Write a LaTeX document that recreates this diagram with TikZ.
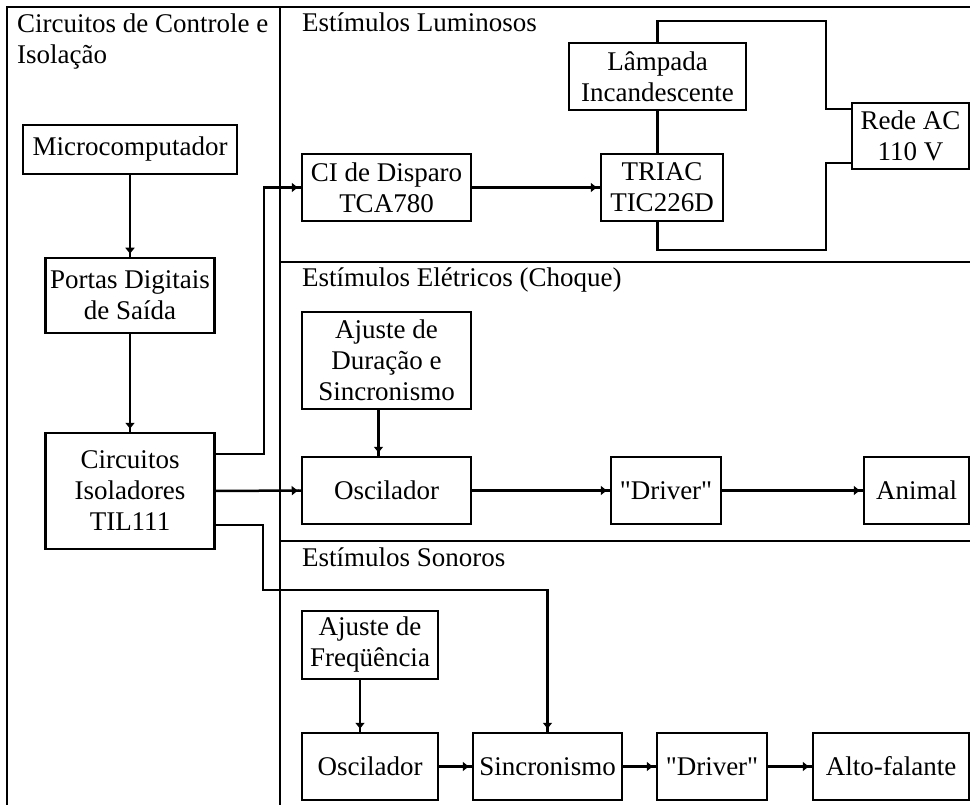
\documentclass[tikz,border=0pt]{standalone}
\usepackage{fontspec}
\setmainfont{Liberation Serif}[Ligatures=TeXOff]
\usetikzlibrary{arrows.meta,positioning}

\begin{document}
\begin{tikzpicture}[x=1pt, y=-1pt,
    >={Triangle[length=6pt,width=9pt] Rectangle[length=3pt,width=2.5pt]},
    every node/.style={font=\fontsize{27}{31}\selectfont},
    blk/.style={draw, line width=2.5pt, inner sep=0pt, align=center, minimum height=67pt},
    ttl/.style={anchor=base west, inner sep=0pt},
    wire/.style={line width=2.5pt},
    lnk/.style={wire, ->}]
    \useasboundingbox (0,0) rectangle (970,805);

    %% Frame
    \draw [line width=1.2pt] (7,805) -- (7,7) -- (970,7);
    \draw [line width=1.2pt] (280,7) -- (280,805);
    \draw [line width=1.2pt] (280,262) -- (970,262);
    \draw [line width=1.2pt] (280,541) -- (970,541);

    \node [ttl, anchor=north west, align=left] (tctrl) at (17,13.5) {Circuitos de Controle e\\Isolação};
    \node [ttl] (tlum) at (302,32) {Estímulos Luminosos};
    \node [ttl] (tele) at (302,287) {Estímulos Elétricos (Choque)};
    \node [ttl] (tson) at (302,566) {Estímulos Sonoros};

    %% Control
    \node [blk, minimum width=214pt, minimum height=49pt] (micro) at (130,149.5) {Microcomputador};
    \node at (micro) [blk, yshift=-146pt, minimum width=169pt, minimum height=75pt] (portas) {Portas Digitais\\de Saída};
    \node at (portas) [blk, yshift=-195.5pt, minimum width=169pt, minimum height=116pt] (isol) {Circuitos\\Isoladores\\TIL111};

    %% Luminosos
    \node [blk, minimum width=169pt] (disparo) at (386.5,187.5) {CI de Disparo\\TCA780};
    \node at (disparo) [blk, xshift=275.5pt, minimum width=122pt] (triac) {TRIAC\\TIC226D};
    \node at (triac) [blk, xshift=-4.5pt, yshift=111pt, minimum width=177pt] (lampada) {Lâmpada\\Incandescente};
    \node [blk, minimum width=117pt, minimum height=66pt] (rede) at (910.5,136) {Rede AC\\110 V};

    %% Eletricos
    \node [blk, minimum width=169pt, minimum height=97pt] (ajdur) at (386.5,360.5) {Ajuste de\\Duração e\\Sincronismo};
    \node at (ajdur) [blk, yshift=-130pt, minimum width=169pt] (oscel) {Oscilador};
    \node at (oscel) [blk, xshift=279.5pt, minimum width=110pt] (drvel) {"Driver"};
    \node at (drvel) [blk, xshift=250.5pt, minimum width=105pt] (animal) {Animal};

    %% Sonoros
    \node [blk, minimum width=136pt, minimum height=68pt] (ajfreq) at (370,645) {Ajuste de\\Freqüência};
    \node at (ajfreq) [blk, yshift=-121.5pt, minimum width=136pt] (oscsom) {Oscilador};
    \node at (oscsom) [blk, xshift=177.5pt, minimum width=149pt] (sinc) {Sincronismo};
    \node at (sinc) [blk, xshift=164.5pt, minimum width=110pt] (drvsom) {"Driver"};
    \node at (drvsom) [blk, xshift=179pt, minimum width=156pt] (alto) {Alto-falante};

    %% Arrows
    \draw [lnk] (micro) -- (portas);
    \draw [lnk] (portas) -- (isol);
    \draw [lnk] ([yshift=37pt]isol.east) -- ++(48,0) |- (disparo);
    \draw [lnk] (isol) -- (oscel);
    \draw [lnk] ([yshift=-34pt]isol.east) -| (263,590) -| (sinc);
    \draw [lnk] (disparo) -- (triac);
    \draw [wire] (lampada) -- (lampada |- triac.north);
    \draw [wire] (lampada.north) |- (826,21) |- ([yshift=27pt]rede.west);
    \draw [wire] ([yshift=-27pt]rede.west) -| (826,250) -| (lampada |- triac.south);
    \draw [lnk] ([xshift=-8pt]ajdur.south) -- ([xshift=-8pt]oscel.north);
    \draw [lnk] (oscel) -- (drvel);
    \draw [lnk] (drvel) -- (animal);
    \draw [lnk] ([xshift=-10pt]ajfreq.south) -- ([xshift=-10pt]oscsom.north);
    \draw [lnk] (oscsom) -- (sinc);
    \draw [lnk] (sinc) -- (drvsom);
    \draw [lnk] (drvsom) -- (alto);
\end{tikzpicture}
\end{document}
